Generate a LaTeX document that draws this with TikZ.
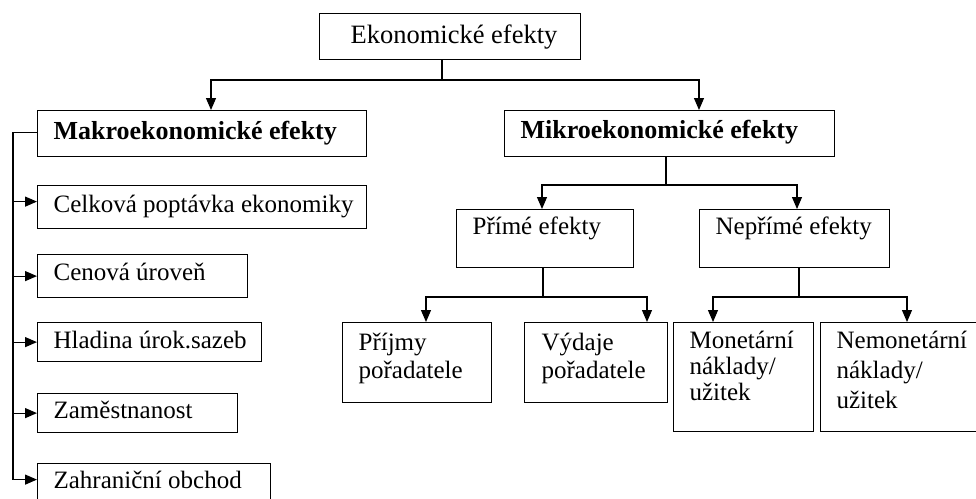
\documentclass[tikz,border=0pt]{standalone}
\usepackage{fontspec}
\setmainfont{Liberation Serif}
\usetikzlibrary{arrows.meta,calc}
% #1 width, #2 height, #3 left padding, #4 first baseline from top, #5 text
\newcommand{\btx}[5]{\parbox[c][#2][t]{#1}{\parindent=0pt\leftskip=#3\relax\rule{0pt}{#4}#5}}
\tikzset{
  box/.style={draw, line width=1.2pt, inner sep=0pt, anchor=north west,
              font=\fontsize{25}{29}\selectfont},
  titlebox/.style={box, font=\fontsize{26.5}{30}\selectfont},
  boldbox/.style={box, font=\fontsize{26}{30}\selectfont\bfseries},
  conn/.style={line width=1.2pt},
  arr/.style={conn, -{Triangle[length=12pt,width=10pt]}}
}
\begin{document}
\begin{tikzpicture}[x=1pt,y=-1pt]
\useasboundingbox (0,0) rectangle (976,498);
\clip (0,0) rectangle (976,498);

% boxes
\node[titlebox] (top) at (319,13) {\btx{261pt}{46pt}{31pt}{30pt}{Ekonomické efekty}};
\node[boldbox] (makro) at (37,110) {\btx{329pt}{46pt}{16pt}{29pt}{Makroekonomické efekty}};
\node[boldbox] (mikro) at (504,110) {\btx{330pt}{46pt}{16pt}{28pt}{Mikroekonomické efekty}};

\node[box] (celk) at (37,185) {\btx{329pt}{43pt}{16pt}{27pt}{Celková poptávka ekonomiky}};
\node[box] (cen)  at (37,254) {\btx{210pt}{43pt}{16pt}{26pt}{Cenová úroveň}};
\node[box] (hlad) at (37,322) {\btx{224pt}{39pt}{16pt}{26pt}{Hladina úrok.sazeb}};
\node[box] (zam)  at (37,393) {\btx{200pt}{39pt}{16pt}{25pt}{Zaměstnanost}};
\node[box] (zahr) at (37,463) {\btx{233pt}{57pt}{16pt}{25pt}{Zahraniční obchod}};

\node[box] (prime)   at (456,209) {\btx{177pt}{58pt}{16pt}{25pt}{Přímé efekty}};
\node[box] (neprime) at (699,209) {\btx{190pt}{58pt}{16pt}{25pt}{Nepřímé efekty}};

\node[box, font=\fontsize{25}{28}\selectfont] (prijmy) at (342,322) {\btx{149pt}{80pt}{16pt}{28pt}{Příjmy\\pořadatele}};
\node[box, font=\fontsize{25}{28}\selectfont] (vydaje) at (524,322) {\btx{143pt}{80pt}{17pt}{28pt}{Výdaje\\pořadatele}};
\node[box, font=\fontsize{25}{26}\selectfont] (monet) at (673,322) {\btx{140pt}{109pt}{16pt}{26pt}{Monetární\\náklady/\\užitek}};
\node[box, font=\fontsize{25}{30}\selectfont] (nemonet) at (820,322) {\btx{175pt}{109pt}{16pt}{26pt}{Nemonetární\\náklady/\\užitek}};

% junction coordinates
\coordinate (j1) at (442,80);
\coordinate (cMa) at (211,0);
\coordinate (cMi) at (699,0);
\coordinate (j2) at (666,185);
\coordinate (cPr) at (542,0);
\coordinate (cNp) at (797,0);
\coordinate (j3) at (543,297);
\coordinate (cPj) at (426,0);
\coordinate (cVy) at (647,0);
\coordinate (j4) at (799,297);
\coordinate (cMo) at (713,0);
\coordinate (cNm) at (907,0);
\coordinate (spine) at (13,0);
\coordinate (inZahr) at ([yshift=12.5pt]zahr.west);
\coordinate (inCelk) at ([yshift=5.5pt]celk.west);
\coordinate (outMakro) at ([yshift=1pt]makro.west);

% top level
\draw[conn] (j1 |- top.south) -- (j1);
\draw[arr] (j1) -| (cMa |- makro.north);
\draw[arr] (j1) -| (cMi |- makro.north);

% micro
\draw[conn] (j2 |- mikro.south) -- (j2);
\draw[arr] (j2) -| (cPr |- prime.north);
\draw[arr] (j2) -| (cNp |- neprime.north);

\draw[conn] (j3 |- prime.south) -- (j3);
\draw[arr] (j3) -| (cPj |- prijmy.north);
\draw[arr] (j3) -| (cVy |- vydaje.north);

\draw[conn] (j4 |- neprime.south) -- (j4);
\draw[arr] (j4) -| (cMo |- monet.north);
\draw[arr] (j4) -| (cNm |- nemonet.north);

% macro spine
\draw[arr] (outMakro) -| (spine |- inZahr) -- (inZahr);
\draw[arr] (spine |- inCelk) -- (inCelk);
\draw[arr] (spine |- cen.west) -- (cen.west);
\draw[arr] (spine |- hlad.west) -- (hlad.west);
\draw[arr] (spine |- zam.west) -- (zam.west);
\end{tikzpicture}
\end{document}
